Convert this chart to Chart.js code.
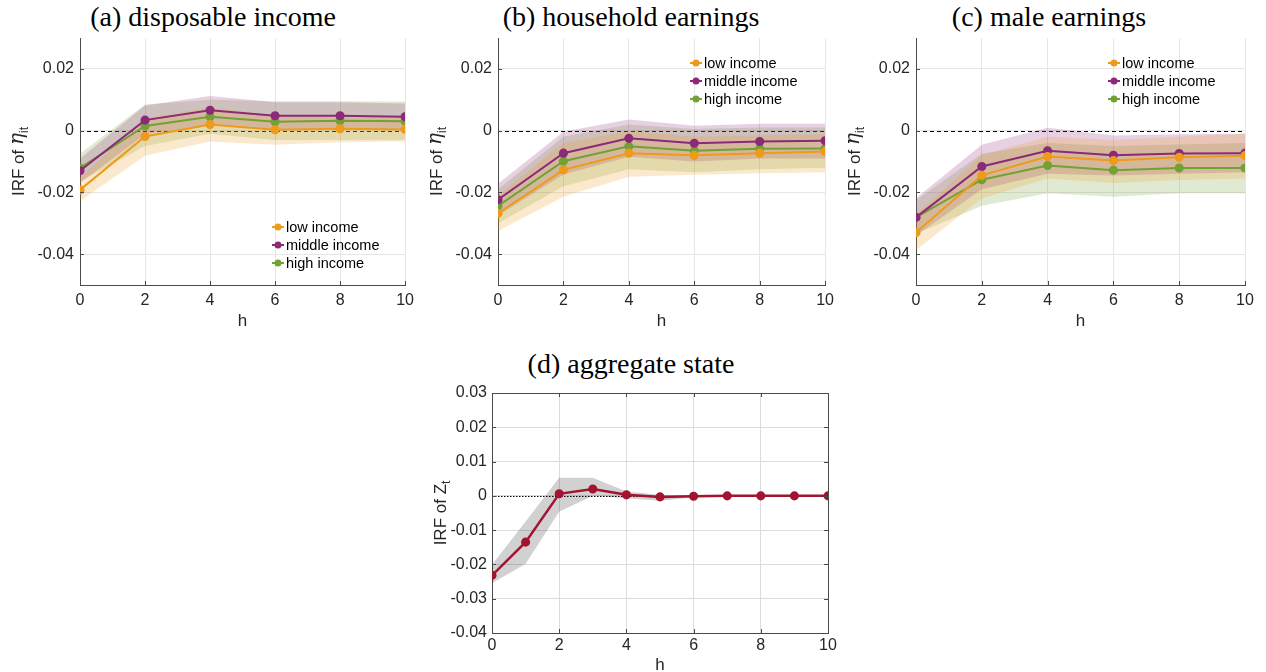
<!DOCTYPE html>
<html>
<head>
<meta charset="utf-8">
<script src="https://cdn.jsdelivr.net/npm/chart.js@4.4.0/dist/chart.umd.min.js"></script>
<style>
  body { margin: 0; background: #fff; width: 1266px; height: 672px; position: relative; overflow: hidden; }
  canvas { position: absolute; }
  .ttl { position: absolute; font-family: "Liberation Serif", serif; font-size: 28px; color: #000;
         white-space: nowrap; transform: translate(-50%, -50%); }
</style>
</head>
<body>
<div class="ttl" style="left:213px;top:17px">(a) disposable income</div>
<div class="ttl" style="left:631px;top:17px">(b) household earnings</div>
<div class="ttl" style="left:1049px;top:17px">(c) male earnings</div>
<div class="ttl" style="left:631px;top:364px">(d) aggregate state</div>

<canvas id="ca" width="420" height="335" style="left:0;top:0"></canvas>
<canvas id="cb" width="420" height="335" style="left:420px;top:0"></canvas>
<canvas id="cc" width="426" height="335" style="left:840px;top:0"></canvas>
<canvas id="cd" width="450" height="332" style="left:400px;top:340px"></canvas>

<script>
// horizons and ticks
const hTop = [0, 2, 4, 6, 8, 10];
const hAgg = [0, 1, 2, 3, 4, 5, 6, 7, 8, 9, 10];
const xTicks = [0, 2, 4, 6, 8, 10];
const topYTicks = [-0.04, -0.02, 0, 0.02];
const aggYTicks = [-0.04, -0.03, -0.02, -0.01, 0, 0.01, 0.02, 0.03];

const groupNames = ["low income", "middle income", "high income"];
const groupColors = ["#EE9A1B", "#8B2A78", "#72A135"];
const groupBands = ["rgba(238,154,27,0.22)", "rgba(139,42,120,0.22)", "rgba(114,161,53,0.22)"];

// (a) disposable income
const aLow    = [-0.0192, -0.0019, 0.0020, 0.0003, 0.0006, 0.0004];
const aLowHi  = [-0.0153, 0.0040, 0.0075, 0.0050, 0.0050, 0.0045];
const aLowLo  = [-0.0228, -0.0081, -0.0035, -0.0046, -0.0038, -0.0035];
const aMid    = [-0.0130, 0.0034, 0.0066, 0.0048, 0.0048, 0.0045];
const aMidHi  = [-0.0090, 0.0081, 0.0112, 0.0092, 0.0092, 0.0088];
const aMidLo  = [-0.0170, -0.0012, 0.0020, 0.0005, 0.0005, 0.0003];
const aHigh   = [-0.0121, 0.0015, 0.0045, 0.0029, 0.0032, 0.0030];
const aHighHi = [-0.0075, 0.0085, 0.0100, 0.0095, 0.0095, 0.0094];
const aHighLo = [-0.0165, -0.0050, -0.0010, -0.0030, -0.0030, -0.0030];

// (b) household earnings
const bLow    = [-0.0268, -0.0127, -0.0073, -0.0080, -0.0073, -0.0068];
const bLowHi  = [-0.0210, -0.0040, 0.0000, -0.0020, -0.0015, -0.0012];
const bLowLo  = [-0.0325, -0.0214, -0.0149, -0.0143, -0.0138, -0.0135];
const bMid    = [-0.0224, -0.0073, -0.0025, -0.0041, -0.0035, -0.0033];
const bMidHi  = [-0.0172, -0.0004, 0.0036, 0.0016, 0.0022, 0.0022];
const bMidLo  = [-0.0275, -0.0142, -0.0085, -0.0100, -0.0090, -0.0090];
const bHigh   = [-0.0244, -0.0099, -0.0051, -0.0065, -0.0059, -0.0058];
const bHighHi = [-0.0190, -0.0020, 0.0020, 0.0005, 0.0010, 0.0010];
const bHighLo = [-0.0300, -0.0180, -0.0125, -0.0135, -0.0125, -0.0120];

// (c) male earnings
const cLow    = [-0.0330, -0.0145, -0.0084, -0.0097, -0.0086, -0.0081];
const cLowHi  = [-0.0270, -0.0080, -0.0020, -0.0030, -0.0020, -0.0010];
const cLowLo  = [-0.0387, -0.0220, -0.0155, -0.0170, -0.0160, -0.0155];
const cMid    = [-0.0281, -0.0116, -0.0065, -0.0080, -0.0074, -0.0073];
const cMidHi  = [-0.0219, -0.0046, 0.0009, -0.0016, -0.0012, -0.0010];
const cMidLo  = [-0.0340, -0.0190, -0.0140, -0.0145, -0.0140, -0.0135];
const cHigh   = [-0.0281, -0.0159, -0.0113, -0.0128, -0.0121, -0.0121];
const cHighHi = [-0.0225, -0.0075, -0.0040, -0.0050, -0.0045, -0.0040];
const cHighLo = [-0.0335, -0.0243, -0.0203, -0.0214, -0.0203, -0.0203];

// (d) aggregate state
const dIrf = [-0.0232, -0.0135, 0.0006, 0.0020, 0.0003, -0.0003, -0.0001, 0.0000, 0.0000, 0.0000, 0.0000];
const dHi  = [-0.0201, -0.0075, 0.0053, 0.0053, 0.0013, 0.0003, 0.0001, 0.0001, 0.0001, 0.0001, 0.0001];
const dLo  = [-0.0255, -0.0198, -0.0046, 0.0000, -0.0007, -0.0014, -0.0005, -0.0002, -0.0001, -0.0001, -0.0001];

const SANS = '"Liberation Sans", Arial, sans-serif';
const TEXT = "#262626";
const AXIS = "#4A4A4A";

function pts(xs, ys) {
    return ys.map((y, i) => ({ x: xs[i], y: y }));
}

function lineSet(xs, ys, color, width) {
    return {
        data: pts(xs, ys), borderColor: color, backgroundColor: color,
        borderWidth: width, pointRadius: 3.8, pointBorderWidth: 1.5,
        pointBackgroundColor: color, pointBorderColor: color, fill: false, order: 0
    };
}

function bandSets(xs, hi, lo, color) {
    return [
        { data: pts(xs, hi), borderWidth: 0, pointRadius: 0, backgroundColor: color, fill: "+1", order: 1 },
        { data: pts(xs, lo), borderWidth: 0, pointRadius: 0, backgroundColor: color, fill: false, order: 1 }
    ];
}

function groupDatasets(series) {
    const lines = series.map((s, i) => lineSet(hTop, s[0], groupColors[i], 2));
    let bands = [];
    series.forEach((s, i) => { bands = bands.concat(bandSets(hTop, s[1], s[2], groupBands[i])); });
    return lines.concat(bands);
}

// per-canvas decorations, looked up by canvas id
const decor = {
    ca: { yTitle: "eta", titleOff: 56, hOff: 41, dash: [4, 3], legend: { x: 272, y: 227 } },
    cb: { yTitle: "eta", titleOff: 56, hOff: 41, dash: [4, 3], legend: { x: 270, y: 63 } },
    cc: { yTitle: "eta", titleOff: 56, hOff: 41, dash: [4, 3], legend: { x: 268, y: 63 } },
    cd: { yTitle: "Z", titleOff: 46, hOff: 37, dash: [1.5, 1.5], box: true }
};

function drawRotated(ctx, cx, cy, parts) {
    ctx.save();
    ctx.translate(cx, cy);
    ctx.rotate(-Math.PI / 2);
    let total = 0;
    parts.forEach(p => { ctx.font = p[1]; total += ctx.measureText(p[0]).width; });
    let x = -total / 2;
    ctx.fillStyle = TEXT;
    ctx.textBaseline = "alphabetic";
    ctx.textAlign = "left";
    parts.forEach(p => {
        ctx.font = p[1];
        ctx.fillText(p[0], x, p[2]);
        x += ctx.measureText(p[0]).width;
    });
    ctx.restore();
}

const irfDecor = {
    id: "irfDecor",
    beforeDatasetsDraw(chart) {
        const d = decor[chart.canvas.id];
        const ctx = chart.ctx, a = chart.chartArea;
        const y0 = chart.scales.y.getPixelForValue(0);
        ctx.save();
        ctx.strokeStyle = "#000";
        ctx.lineWidth = 1;
        ctx.setLineDash(d.dash);
        ctx.beginPath();
        ctx.moveTo(a.left, Math.round(y0) + 0.5);
        ctx.lineTo(a.right, Math.round(y0) + 0.5);
        ctx.stroke();
        ctx.restore();
    },
    afterDraw(chart) {
        const d = decor[chart.canvas.id];
        const ctx = chart.ctx, a = chart.chartArea;
        const xs = chart.scales.x, ys = chart.scales.y;

        // inward tick marks
        ctx.save();
        ctx.strokeStyle = AXIS;
        ctx.lineWidth = 1;
        ctx.beginPath();
        xs.ticks.forEach(t => {
            const px = Math.round(xs.getPixelForValue(t.value)) + 0.5;
            ctx.moveTo(px, a.bottom); ctx.lineTo(px, a.bottom - 4);
            if (d.box) { ctx.moveTo(px, a.top); ctx.lineTo(px, a.top + 4); }
        });
        ys.ticks.forEach(t => {
            const py = Math.round(ys.getPixelForValue(t.value)) + 0.5;
            ctx.moveTo(a.left, py); ctx.lineTo(a.left + 4, py);
            if (d.box) { ctx.moveTo(a.right, py); ctx.lineTo(a.right - 4, py); }
        });
        ctx.stroke();
        if (d.box) {
            ctx.beginPath();
            ctx.moveTo(a.left, Math.round(a.top) + 0.5);
            ctx.lineTo(Math.round(a.right) + 0.5, Math.round(a.top) + 0.5);
            ctx.lineTo(Math.round(a.right) + 0.5, a.bottom);
            ctx.stroke();
        }
        ctx.restore();

        // x title
        ctx.save();
        ctx.fillStyle = TEXT;
        ctx.font = "17px " + SANS;
        ctx.textAlign = "center";
        ctx.textBaseline = "alphabetic";
        ctx.fillText("h", (a.left + a.right) / 2, a.bottom + d.hOff);
        ctx.restore();

        // y title
        const cy = (a.top + a.bottom) / 2;
        const cx = a.left - d.titleOff;
        if (d.yTitle === "eta") {
            drawRotated(ctx, cx, cy, [
                ["IRF of ", "17px " + SANS, 0],
                ["\u03B7", 'italic 20px "DejaVu Serif", serif', -1],
                ["it", "12px " + SANS, 4]
            ]);
        } else {
            drawRotated(ctx, cx, cy, [
                ["IRF of Z", "17px " + SANS, 0],
                ["t", "12px " + SANS, 4]
            ]);
        }

        // legend
        if (d.legend) {
            ctx.save();
            groupNames.forEach((name, k) => {
                const y = d.legend.y + k * 18;
                const c = groupColors[k];
                ctx.strokeStyle = c;
                ctx.fillStyle = c;
                ctx.lineWidth = 2;
                ctx.beginPath();
                ctx.moveTo(d.legend.x, y);
                ctx.lineTo(d.legend.x + 12, y);
                ctx.stroke();
                ctx.beginPath();
                ctx.arc(d.legend.x + 6, y, 3.5, 0, Math.PI * 2);
                ctx.fill();
                ctx.fillStyle = "#000";
                ctx.font = "14.5px " + SANS;
                ctx.textAlign = "left";
                ctx.textBaseline = "middle";
                ctx.fillText(name, d.legend.x + 14, y + 1);
            });
            ctx.restore();
        }
    }
};

function makeChart(id, datasets, opt) {
    const tickFont = { family: SANS, size: 16 };
    return new Chart(document.getElementById(id), {
        type: "line",
        data: { datasets: datasets },
        options: {
            responsive: false,
            animation: false,
            devicePixelRatio: 1,
            layout: { padding: { top: opt.padTop, right: opt.padRight, left: 0, bottom: 0 } },
            plugins: { legend: { display: false }, tooltip: { enabled: false } },
            elements: { line: { tension: 0 } },
            scales: {
                x: {
                    type: "linear", min: 0, max: 10,
                    afterBuildTicks: s => { s.ticks = xTicks.map(v => ({ value: v })); },
                    afterFit: s => { s.height = opt.xH; },
                    grid: { color: opt.gridColor, drawTicks: false },
                    border: { color: AXIS, width: 1 },
                    ticks: { font: tickFont, color: TEXT, padding: opt.xPad, maxRotation: 0, autoSkip: false }
                },
                y: {
                    type: "linear", min: opt.yMin, max: opt.yMax,
                    afterBuildTicks: s => { s.ticks = opt.yTicks.map(v => ({ value: v })); },
                    afterFit: s => { s.width = opt.yW; },
                    grid: { color: opt.gridColor, drawTicks: false },
                    border: { color: AXIS, width: 1 },
                    ticks: {
                        font: tickFont, color: TEXT, padding: opt.yPad, autoSkip: false,
                        callback: v => (Math.abs(v) < 1e-9 ? "0" : v.toFixed(2))
                    }
                }
            }
        },
        plugins: [irfDecor]
    });
}

const topOpt = { padTop: 38, xH: 50, yMin: -0.05, yMax: 0.03, yTicks: topYTicks,
                 gridColor: "#E6E6E6", xPad: 6, yPad: 6 };

makeChart("ca", groupDatasets([[aLow, aLowHi, aLowLo], [aMid, aMidHi, aMidLo], [aHigh, aHighHi, aHighLo]]),
    Object.assign({}, topOpt, { yW: 80, padRight: 10 }));
makeChart("cb", groupDatasets([[bLow, bLowHi, bLowLo], [bMid, bMidHi, bMidLo], [bHigh, bHighHi, bHighLo]]),
    Object.assign({}, topOpt, { yW: 78, padRight: 13 }));
makeChart("cc", groupDatasets([[cLow, cLowHi, cLowLo], [cMid, cMidHi, cMidLo], [cHigh, cHighHi, cHighLo]]),
    Object.assign({}, topOpt, { yW: 76, padRight: 21 }));

const aggSets = [lineSet(hAgg, dIrf, "#A2142F", 2.5)].concat(bandSets(hAgg, dHi, dLo, "rgba(0,0,0,0.18)"));
makeChart("cd", aggSets, {
    padTop: 53, padRight: 22, xH: 39, yW: 92, yMin: -0.04, yMax: 0.03, yTicks: aggYTicks,
    gridColor: "#DCDCDC", xPad: 3, yPad: 5
});
</script>
</body>
</html>
